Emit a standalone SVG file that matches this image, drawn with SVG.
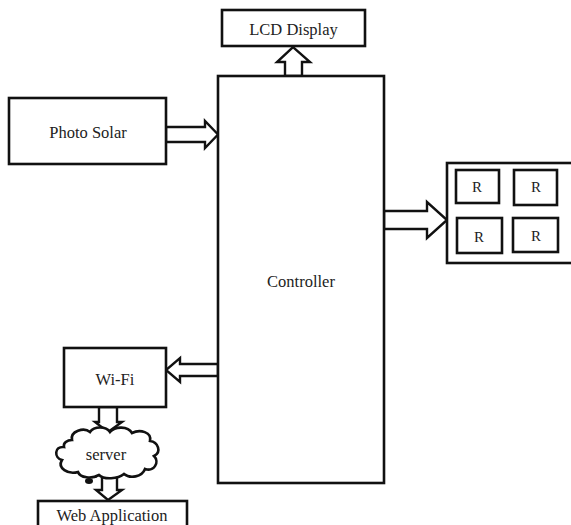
<svg xmlns="http://www.w3.org/2000/svg" width="571" height="525" viewBox="0 0 571 525">
  <style>
    .box { fill: #ffffff; stroke: #111111; stroke-width: 2.6; }
    .rbox { fill: #ffffff; stroke: #111111; stroke-width: 2.6; }
    .arrow { fill: #ffffff; stroke: #111111; stroke-width: 2.4; stroke-linejoin: miter; }
    .lbl { font-family: "Liberation Serif", "Times New Roman", serif; font-size: 16.5px; fill: #222222; text-anchor: middle; dominant-baseline: central; }
    .small { font-size: 15px; }
  </style>
  <rect width="571" height="525" fill="#ffffff"/>

  <g id="connectors">
    <!-- controller to LCD (up) -->
    <polygon class="arrow" points="285,76 285,62 277,62 293,47 310,62 302,62 302,76"/>
    <!-- photo solar to controller (right) -->
    <polygon class="arrow" points="166,127 205,127 205,121 218,134.5 205,148 205,142 166,142"/>
    <!-- controller to relays (right) -->
    <polygon class="arrow" points="384,211 427,211 427,202 447,220 427,238 427,229 384,229"/>
    <!-- controller to Wi-Fi (left) -->
    <polygon class="arrow" points="218,364 180,364 180,358 166,370 180,382 180,376 218,376"/>
    <!-- Wi-Fi to server (down) -->
    <polygon class="arrow" points="99,407 117,407 117,422 122,422 108,432 95,422 99,422"/>
    <!-- server to web application (down) -->
    <polygon class="arrow" points="102,476 117,476 117,490 122,490 108,500 96,490 102,490"/>
  </g>

  <g id="lcd">
    <rect class="box" x="222" y="10" width="143" height="36"/>
    <text class="lbl" x="293.5" y="29">LCD Display</text>
  </g>

  <g id="controller">
    <rect class="box" x="218" y="76" width="166" height="407"/>
    <text class="lbl" x="301" y="281">Controller</text>
  </g>

  <g id="photo-solar">
    <rect class="box" x="9" y="98" width="157" height="66"/>
    <text class="lbl" x="88" y="132">Photo Solar</text>
  </g>

  <g id="relays">
    <rect class="box" x="447" y="163" width="126" height="100"/>
    <rect class="rbox" x="456" y="170" width="43" height="33"/>
    <text class="lbl small" x="477" y="187">R</text>
    <rect class="rbox" x="514" y="170" width="43" height="35"/>
    <text class="lbl small" x="536" y="187">R</text>
    <rect class="rbox" x="457" y="218" width="45" height="35"/>
    <text class="lbl small" x="479" y="237">R</text>
    <rect class="rbox" x="513" y="218" width="45" height="34"/>
    <text class="lbl small" x="536" y="236">R</text>
  </g>

  <g id="wifi">
    <rect class="box" x="64" y="348" width="102" height="59"/>
    <text class="lbl" x="115" y="379">Wi-Fi</text>
  </g>

  <g id="server">
    <path class="box" d="M72,440 C70,431 84,427 90,432 C94,426 106,426 110,432 C115,426 128,426 132,433 C140,429 152,432 150,441 C158,442 162,452 154,456 C160,462 154,472 145,469 C142,477 130,479 124,474 C118,479 104,480 99,475 C92,479 80,478 78,472 C68,475 57,468 62,460 C54,458 54,446 64,447 C63,443 67,440 72,440 Z"/>
    <ellipse cx="89" cy="481" rx="4" ry="3" fill="#111111"/>
    <path d="M92,478 C94,476 96,477 96,478" fill="none" stroke="#111111" stroke-width="1.5"/>
    <text class="lbl" x="106" y="454">server</text>
  </g>

  <g id="web-application">
    <rect class="box" x="38" y="501" width="149" height="40"/>
    <text class="lbl" x="112" y="515">Web Application</text>
  </g>
</svg>
